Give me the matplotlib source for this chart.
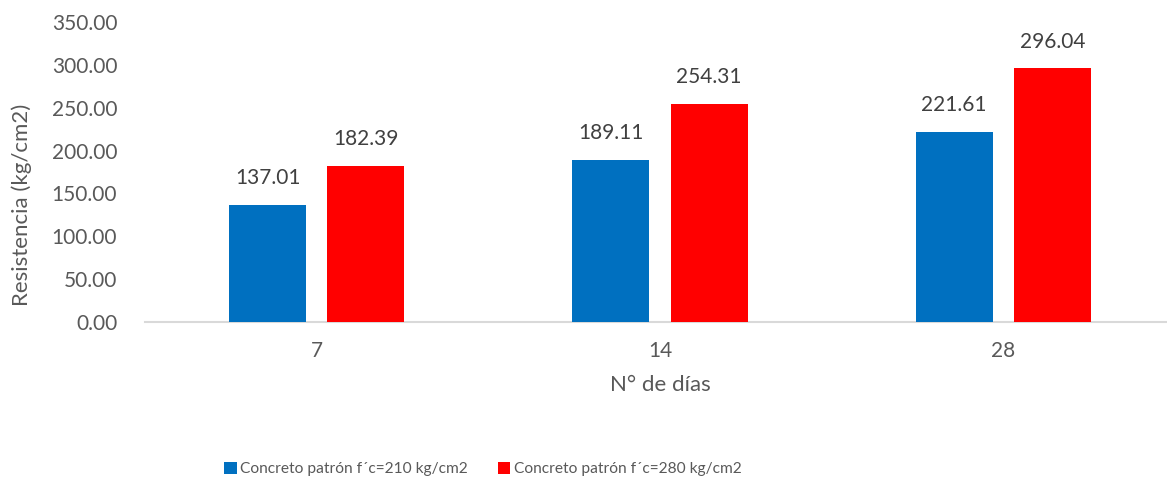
import matplotlib
matplotlib.use("Agg")
import matplotlib.pyplot as plt
import numpy as np
from matplotlib.patches import Patch

plt.rcParams['font.family'] = ['Lato', 'DejaVu Sans']

categories = ["7", "14", "28"]
series_names = ["Concreto patrón f´c=210 kg/cm2", "Concreto patrón f´c=280 kg/cm2"]
values_210 = [137.01, 189.11, 221.61]
values_280 = [182.39, 254.31, 296.04]
colors = ["#0070C0", "#FF0000"]
yticks = [0, 50, 100, 150, 200, 250, 300, 350]

W, H = 1167, 479
fig = plt.figure(figsize=(W / 100, H / 100), dpi=100)
ax = fig.add_axes([145 / W, (H - 322) / H, (1175 - 145) / W, 300 / H])

x = np.arange(len(categories))
bw = 0.224
off = 0.143
text_color = "#595959"
for vals, dx, c in [(values_210, -off, colors[0]), (values_280, off, colors[1])]:
    bars = ax.bar(x + dx, vals, width=bw, color=c, zorder=3)
    for b, v in zip(bars, vals):
        ax.annotate(f"{v:.2f}", (b.get_x() + b.get_width() / 2, v),
                    xytext=(0, 12), textcoords="offset points",
                    ha="center", va="bottom", fontsize=15, color="#404040")

ax.set_xlim(-0.5, len(categories) - 0.5)
ax.set_ylim(0, 350)
ax.set_yticks(yticks)
ax.set_yticklabels([f"{t:.2f}" for t in yticks], fontsize=15, color=text_color)
ax.set_xticks(x)
ax.set_xticklabels(categories, fontsize=15, color=text_color)
ax.tick_params(axis="both", length=0)
ax.tick_params(axis="y", pad=20)
ax.tick_params(axis="x", pad=14)
for s in ["top", "right", "left"]:
    ax.spines[s].set_visible(False)
ax.spines["bottom"].set_color("#D9D9D9")
ax.spines["bottom"].set_linewidth(1.5)

ax.set_xlabel("N° de días", fontsize=16, color=text_color, labelpad=10)
fig.text(22 / W, 1 - 205 / H, "Resistencia (kg/cm2)", rotation=90,
         ha="center", va="center", fontsize=16, color=text_color)

handles = [Patch(facecolor=colors[0]), Patch(facecolor=colors[1])]
fig.legend(handles, series_names, loc="center", bbox_to_anchor=(483 / W, 1 - 469 / H),
           ncol=2, frameon=False, prop={'size': 11.2},
           labelcolor=text_color,
           handlelength=0.8, handleheight=0.8, handletextpad=0.25, columnspacing=1.9)

fig.savefig("out.png", dpi=100)
